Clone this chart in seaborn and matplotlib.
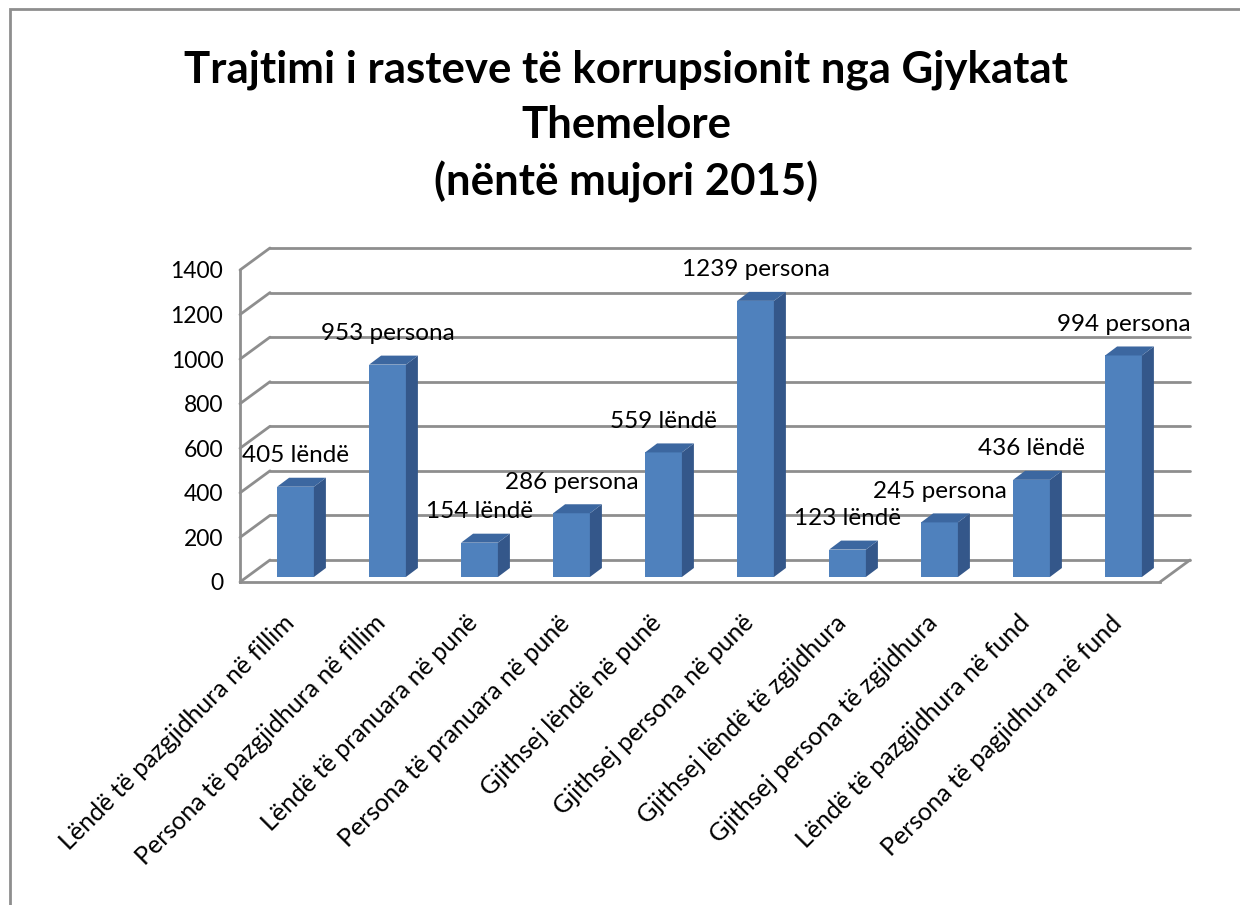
import matplotlib
matplotlib.use("Agg")
import matplotlib.pyplot as plt
import matplotlib.transforms as mtransforms
from matplotlib.patches import Polygon, Rectangle
import seaborn as sns

# data
categories = [
    "Lëndë të pazgjidhura në fillim",
    "Persona të pazgjidhura në fillim",
    "Lëndë të pranuara në punë",
    "Persona të pranuara në punë",
    "Gjithsej lëndë në punë",
    "Gjithsej persona në punë",
    "Gjithsej lëndë të zgjidhura",
    "Gjithsej persona të zgjidhura",
    "Lëndë të pazgjidhura në fund",
    "Persona të pagjidhura në fund",
]
values = [405, 953, 154, 286, 559, 1239, 123, 245, 436, 994]
value_labels = [
    "405 lëndë", "953 persona", "154 lëndë", "286 persona", "559 lëndë",
    "1239 persona", "123 lëndë", "245 persona", "436 lëndë", "994 persona",
]
y_ticks = [0, 200, 400, 600, 800, 1000, 1200, 1400]
title = "Trajtimi i rasteve të korrupsionit nga Gjykatat\nThemelore\n(nëntë mujori 2015)"

FRONT = "#4F81BD"
SIDE = "#34578A"
TOP = "#3C67A0"
GRID = "#8E8E8E"

sns.set_theme(style="white")
plt.rcParams["font.family"] = ["Lato", "DejaVu Sans"]
plt.rcParams["text.color"] = "black"
plt.rcParams["xtick.color"] = "black"
plt.rcParams["ytick.color"] = "black"

W, H = 1240, 905
fig = plt.figure(figsize=(W / 100, H / 100), dpi=100)
fig.patch.set_facecolor("white")

# chart border
fig.patches.append(Rectangle((10 / W, -0.1), 1.2, (H - 9) / H + 0.1, transform=fig.transFigure,
                             fill=False, edgecolor=GRID, linewidth=2))

ax = fig.add_axes([240 / W, 323 / H, 920 / W, 312 / H])
n = len(categories)
ax.set_xlim(-0.5, n - 0.5)
ax.set_ylim(0, 1400)
ax.set_facecolor("none")

# pixel -> data scale
px_x = 920 / n
px_y = 312 / 1400

# back wall offset and bar depth (pixels)
wall_dx, wall_dy = 30 / px_x, 22 / px_y
depth_dx, depth_dy = 12 / px_x, 9 / px_y
bar_shift = mtransforms.ScaledTranslation(9.5 / 100, 5 / 100, fig.dpi_scale_trans)

# back wall gridlines and diagonals
for t in y_ticks:
    ax.plot([-0.5 + wall_dx, n - 0.5 + wall_dx], [t + wall_dy, t + wall_dy],
            color=GRID, lw=2, clip_on=False, zorder=1)
    ax.plot([-0.5, -0.5 + wall_dx], [t, t + wall_dy], color=GRID, lw=2, clip_on=False, zorder=1)
ax.plot([n - 0.5, n - 0.5 + wall_dx], [0, wall_dy], color=GRID, lw=2, clip_on=False, zorder=1)

sns.barplot(x=categories, y=values, color=FRONT, width=0.4, saturation=1, ax=ax, zorder=3)

for p, lab in zip(ax.patches, value_labels):
    p.set_transform(ax.transData + bar_shift)
    p.set_edgecolor("none")
    x0, x1, h = p.get_x(), p.get_x() + p.get_width(), p.get_height()
    side = Polygon([(x1, 0), (x1 + depth_dx, depth_dy), (x1 + depth_dx, h + depth_dy), (x1, h)],
                   closed=True, facecolor=SIDE, edgecolor="none", zorder=3,
                   transform=ax.transData + bar_shift, clip_on=False)
    top = Polygon([(x0, h), (x0 + depth_dx, h + depth_dy), (x1 + depth_dx, h + depth_dy), (x1, h)],
                  closed=True, facecolor=TOP, edgecolor="none", zorder=3,
                  transform=ax.transData + bar_shift, clip_on=False)
    ax.add_patch(side)
    ax.add_patch(top)
    ax.text((x0 + x1) / 2, h + 31 / px_y, lab, ha="center", va="center", fontsize=17.5,
            color="black", transform=ax.transData + bar_shift, clip_on=False, zorder=5)

# axes lines
for s in ["top", "right"]:
    ax.spines[s].set_visible(False)
for s in ["left", "bottom"]:
    ax.spines[s].set_color(GRID)
    ax.spines[s].set_linewidth(2)

ax.set_yticks(y_ticks)
ax.set_yticklabels([str(t) for t in y_ticks], fontsize=16.5)
ax.tick_params(axis="y", direction="out", length=6, width=2, color=GRID, labelcolor="black", pad=6)

ax.set_xticks(range(n))
ax.set_xticks([i - 0.5 for i in range(n + 1)], minor=True)
ax.set_xticklabels(categories, rotation=45, ha="right", va="top", rotation_mode="anchor", fontsize=18)
ax.tick_params(axis="x", which="major", length=0, pad=21, labelcolor="black")
ax.tick_params(axis="x", which="minor", direction="out", length=7, width=2, color=GRID)
label_shift = mtransforms.ScaledTranslation(-4 / 100, 0, fig.dpi_scale_trans)
for lab in ax.get_xticklabels():
    lab.set_transform(lab.get_transform() + label_shift)

ax.set_xlabel("")
ax.set_ylabel("")

fig.text(0.505, 1 - 126 / H, title, ha="center", va="center", fontsize=31.5, fontweight="bold",
         linespacing=1.45, color="black")

fig.savefig("out.png", dpi=100)
